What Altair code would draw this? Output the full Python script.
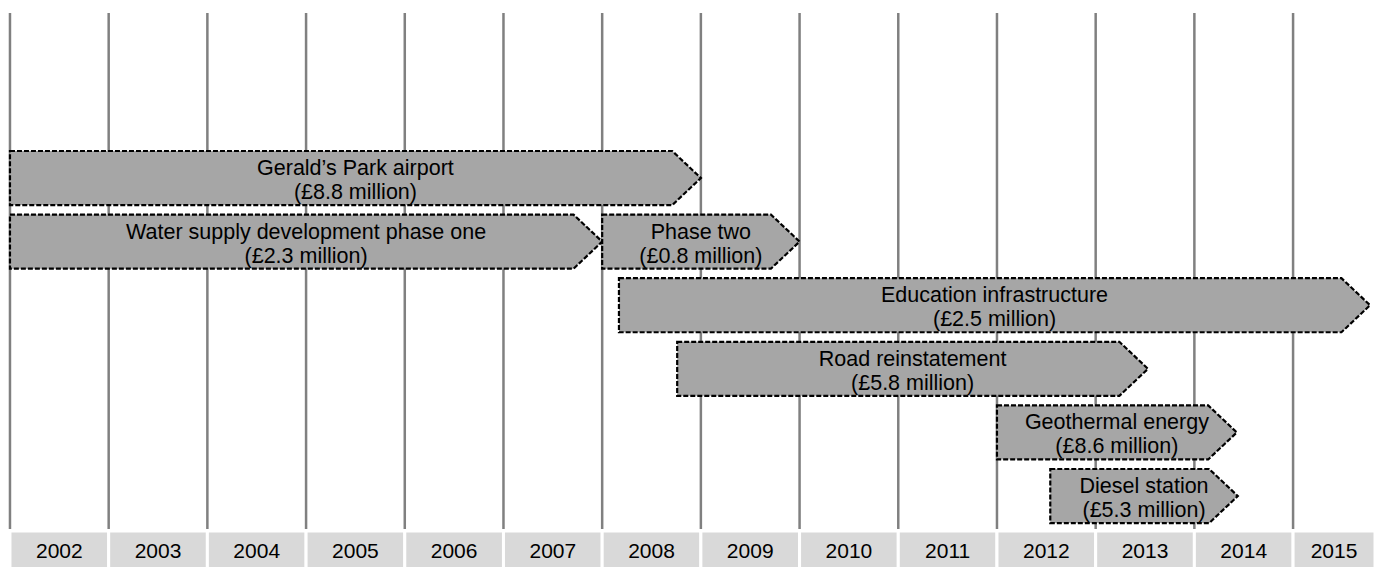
import altair as alt
import pandas as pd

# ---- data ----
years = list(range(2002, 2016))
projects = [
    "Gerald’s Park airport",
    "Water supply development phase one",
    "Phase two",
    "Education infrastructure",
    "Road reinstatement",
    "Geothermal energy",
    "Diesel station",
]
costs = [
    "(£8.8 million)",
    "(£2.3 million)",
    "(£0.8 million)",
    "(£2.5 million)",
    "(£5.8 million)",
    "(£8.6 million)",
    "(£5.3 million)",
]
starts = [2002.0, 2002.0, 2008.0, 2008.17, 2008.76, 2012.0, 2012.54]
ends = [2009.0, 2008.0, 2010.0, 2015.78, 2013.53, 2014.43, 2014.44]
rows = [0, 1, 1, 2, 3, 4, 5]

# ---- styling / layout constants ----
HEAD = 0.29       # arrow-head length in years
BAR_H = 0.85      # bar thickness in row units
FONT = "Liberation Sans"
W, H = 1367, 559
X_MIN = 2001.98
X_MAX = X_MIN + W / 98.7
Y_TOP = -143 / 63.6
Y_BOT = (H - 143) / 63.6

xs = alt.Scale(domain=[X_MIN, X_MAX], nice=False, zero=False)
ys = alt.Scale(domain=[Y_TOP, Y_BOT], nice=False, zero=False, reverse=True)

# polygon points for arrow shapes
pts = []
for i, name in enumerate(projects):
    top = rows[i]
    bot = rows[i] + BAR_H
    mid = (top + bot) / 2
    pts.append(dict(name=name, px=starts[i], ptop=top, pbot=bot))
    pts.append(dict(name=name, px=ends[i] - HEAD, ptop=top, pbot=bot))
    pts.append(dict(name=name, px=ends[i], ptop=mid, pbot=mid))
poly = pd.DataFrame(pts)

labels = pd.DataFrame({
    "name": projects,
    "text": [p + "\n" + c for p, c in zip(projects, costs)],
    "xm": [(s + e) / 2 for s, e in zip(starts, ends)],
    "ym": [r + BAR_H / 2 for r in rows],
})

yr = pd.DataFrame({"year": years})
yr["year_end"] = [min(y + 1, X_MAX) for y in years]
yr["mid"] = (yr["year"] + yr["year_end"]) / 2
yr["label"] = [str(y) for y in years]

rules = alt.Chart(yr).mark_rule(color="#808080", strokeWidth=2.5).encode(
    x=alt.X("year:Q", scale=xs, axis=None),
    y=alt.value(5),
    y2=alt.value(521),
)

boxes = alt.Chart(yr).mark_rect(fill="#d9d9d9", stroke="white", strokeWidth=3).encode(
    x=alt.X("year:Q", scale=xs, axis=None),
    x2="year_end:Q",
    y=alt.value(523),
    y2=alt.value(H + 5),
)

year_text = alt.Chart(yr).mark_text(font=FONT, fontSize=21, baseline="middle", color="black").encode(
    x=alt.X("mid:Q", scale=xs, axis=None),
    y=alt.value(544),
    text="label:N",
)

arrows = alt.Chart(poly).mark_area(
    fill="#a6a6a6", fillOpacity=1, stroke="black", strokeWidth=2.2, strokeDash=[5, 2],
    interpolate="linear", orient="vertical",
).encode(
    x=alt.X("px:Q", scale=xs, axis=None),
    y=alt.Y("ptop:Q", scale=ys, axis=None, stack=None),
    y2="pbot:Q",
    detail="name:N",
)

bar_text = alt.Chart(labels).mark_text(
    font=FONT, fontSize=21.5, baseline="middle", align="center", color="black",
    lineBreak="\n", lineHeight=24, dy=-9,
).encode(
    x=alt.X("xm:Q", scale=xs, axis=None),
    y=alt.Y("ym:Q", scale=ys, axis=None),
    text="text:N",
)

chart = alt.layer(rules, boxes, year_text, arrows, bar_text).properties(
    width=W, height=H, padding=0, autosize="none"
).configure_view(strokeWidth=0)

chart.save("out.html", embed_options={"renderer": "svg", "actions": False})
